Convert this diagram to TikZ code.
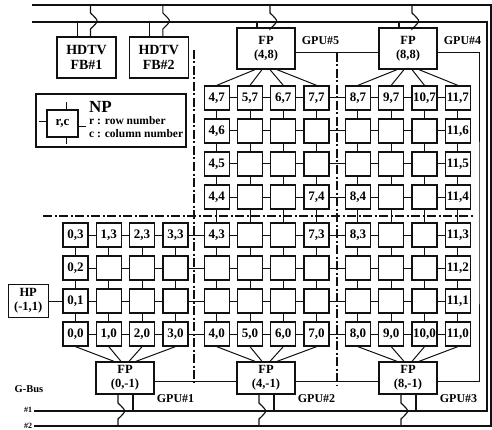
\documentclass[tikz,border=0pt]{standalone}
\usepackage{fontspec}
\setmainfont{Liberation Serif}
\usepackage{tikz}
\usetikzlibrary{positioning,calc}
\definecolor{ppink}{HTML}{111111}
\tikzset{
  ppnp/.style={draw=ppink, line width=1.3pt, fill=white, minimum width=25pt, minimum height=24pt,
    inner sep=0pt, font=\bfseries\fontsize{13}{13}\selectfont},
  ppfp/.style={draw=ppink, line width=1.3pt, fill=white, align=center, minimum width=58pt,
    inner sep=0pt, font=\bfseries\fontsize{12.5}{14}\selectfont},
  pphd/.style={ppfp, minimum width=59pt, minimum height=41pt, font=\bfseries\fontsize{14}{15}\selectfont},
  pplink/.style={draw=ppink, line width=1pt},
  pptap/.style={draw=ppink, line width=1.1pt},
  ppbus/.style={draw=ppink, line width=2.2pt},
  ppsplit/.style={draw=ppink, line width=1.6pt, dash pattern=on 9pt off 2.5pt on 2pt off 2.5pt},
  pplabel/.style={font=\bfseries\fontsize{12}{12}\selectfont, inner sep=0pt},
  ppsmall/.style={font=\bfseries\fontsize{8}{8}\selectfont, inner sep=0pt}
}
\newcommand{\npshown}[2]{%
  \pgfmathtruncatemacro\nplab{(#2==0)||(#2==7)||(#1==0)||(#1==11)||((#2==3)&&(#1<5))||((#2>3)&&(#1==4))||(((#2==3)||(#2==4))&&((#1==7)||(#1==8)))}%
  \ifnum\nplab=1 #1,#2\fi}
\begin{document}
\begin{tikzpicture}[x=1pt, y=1pt]
\path[use as bounding box, fill=white] (0,0) rectangle (492,429);
\coordinate (b2tl) at (32,424);
\coordinate (b2tr) at (491,424);
\coordinate (b2br) at (491,3);
\coordinate (b2bl) at (34,3);
\coordinate (b1tl) at (32,407);
\coordinate (b1tr) at (487,407);
\coordinate (b1br) at (487,18);
\coordinate (b1bl) at (34,18);
\draw[ppbus] (b2tl) -- (b2tr) -- (b2br) -- (b2bl);
\draw[ppbus] (b1tl) -- (b1tr) -- (b1br) -- (b1bl);
\draw[ppsplit] (43,213) -- (474,213);
\draw[ppsplit] (194,379) -- (194,46);
\draw[ppsplit] (337,376) -- (337,44);
\foreach \i in {0,...,11}
  \foreach \j in {0,...,3}
    \node[ppnp] (nc\i r\j) at ({75.5+33.3*\i+8*int(\i/4)},{95+33*\j}) {\npshown{\i}{\j}};
\foreach \i in {4,...,11}
  \foreach \j in {4,...,7}
    \node[ppnp] (nc\i r\j) at ({75.5+33.3*\i+8*int(\i/4)},{100+33*\j}) {\npshown{\i}{\j}};
\foreach \j in {0,...,3}
  \foreach \i [count=\k from 1] in {0,...,10}
    \draw[pplink] (nc\i r\j.east) -- (nc\k r\j.west);
\foreach \j in {4,...,7}
  \foreach \i [count=\k from 5] in {4,...,10}
    \draw[pplink] (nc\i r\j.east) -- (nc\k r\j.west);
\foreach \i in {0,...,3}
  \foreach \j [count=\k from 1] in {0,...,2}
    \draw[pplink] (nc\i r\j.north) -- (nc\i r\k.south);
\foreach \i in {4,...,11}
  \foreach \j [count=\k from 1] in {0,...,6}
    \draw[pplink] (nc\i r\j.north) -- (nc\i r\k.south);
\node[ppfp, minimum height=41pt] (fp48) at (266,380.5) {FP\\(4,8)};
\node[ppfp, minimum height=41pt] (fp88) at (408,380.5) {FP\\(8,8)};
\node[ppfp, minimum height=32pt] (fp0) at (125,51) {FP\\(0,-1)};
\node[ppfp, minimum height=32pt] (fp4) at (266,51) {FP\\(4,-1)};
\node[ppfp, minimum height=32pt] (fp8) at (408,51) {FP\\(8,-1)};
\node[pphd] (hd1) at (86.5,371.5) {HDTV\\FB\#1};
\node[pphd, right=12pt of hd1] (hd2) {HDTV\\FB\#2};
\node[ppfp, minimum width=40pt, minimum height=33pt, left=13.5pt of nc0r1] (hp) {HP\\(-1,1)};
\foreach \i/\dx in {0/-11,1/-4,2/4,3/11}
  \draw[pplink] (nc\i r0.south) -- ([xshift=\dx pt]fp0.north);
\foreach \i/\dx in {4/-11,5/-4,6/4,7/11}
  \draw[pplink] (nc\i r0.south) -- ([xshift=\dx pt]fp4.north);
\foreach \i/\dx in {8/-11,9/-4,10/4,11/11}
  \draw[pplink] (nc\i r0.south) -- ([xshift=\dx pt]fp8.north);
\foreach \i/\dx in {4/-11,5/-4,6/4,7/11}
  \draw[pplink] (nc\i r7.north) -- ([xshift=\dx pt]fp48.south);
\foreach \i/\dx in {8/-11,9/-4,10/4,11/11}
  \draw[pplink] (nc\i r7.north) -- ([xshift=\dx pt]fp88.south);
\draw[pplink] (hp.east) -- (nc0r1.west);
\coordinate (fploop) at (479,200);
\draw[pplink] ([yshift=-4.5pt]fp48.east) -- ([yshift=-4.5pt]fp88.west);
\draw[pplink] ([yshift=-4.5pt]fp88.east) -| (fploop) |- ([yshift=-3pt]fp8.east);
\draw[pplink] ([yshift=-3pt]fp0.east) -- ([yshift=-3pt]fp4.west);
\draw[pplink] ([yshift=-3pt]fp4.east) -- ([yshift=-3pt]fp8.west);
\coordinate (hoptop) at (0,400);
\coordinate (hopbot) at (0,26);
\foreach \dev in {hd1,hd2,fp48,fp88} {
  \draw[pptap] ([xshift=-9pt]\dev.north) coordinate (tp) -- (tp |- b1tl);
  \draw[pptap] ([xshift=4pt]\dev.north) coordinate (tp) -- (tp |- hoptop)
    to[out=45,in=-45,looseness=2] ++(0,16) -- (tp |- b2tl);
}
\foreach \dev in {fp0,fp4,fp8} {
  \draw[pptap] ([xshift=8pt]\dev.south) coordinate (tp) -- (tp |- b1bl);
  \draw[pptap] ([xshift=-7pt]\dev.south) coordinate (tp) -- (tp |- hopbot)
    to[out=-45,in=45,looseness=2] ++(0,-16) -- (tp |- b2bl);
}
\node[pplabel, anchor=west] (gpu5) at ([xshift=6pt,yshift=8pt]fp48.east) {GPU\#5};
\node[pplabel, anchor=west] (gpu4) at ([xshift=6pt,yshift=8pt]fp88.east) {GPU\#4};
\node[pplabel, anchor=west] (gpu1) at ([xshift=2pt,yshift=-4pt]fp0.south east) {GPU\#1};
\node[pplabel, anchor=west] (gpu2) at ([xshift=2pt,yshift=-4pt]fp4.south east) {GPU\#2};
\node[pplabel, anchor=west] (gpu3) at ([xshift=2pt,yshift=-4pt]fp8.south east) {GPU\#3};
\node[font=\bfseries\fontsize{10.5}{10.5}\selectfont, inner sep=0pt] (gbus) at (29,40) {G-Bus};
\node[ppsmall] (bus1lab) at (28,19) {\#1};
\node[ppsmall] (bus2lab) at (28,3) {\#2};
\node[draw=ppink, line width=1.3pt, minimum width=150pt, minimum height=53pt] (legend) at (111,308.5) {};
\node[ppnp, minimum width=31pt, minimum height=27pt] (legnp) at (62.5,305.5) {r,c};
\draw[pplink] ([xshift=4pt]legnp.north) -- ++(0,7);
\draw[pplink] ([xshift=4pt]legnp.south) -- ++(0,-6);
\draw[pplink] ([yshift=2pt]legnp.west) -- ++(-7,0);
\draw[pplink] ([yshift=-3pt]legnp.east) -- ++(7,0);
\node[font=\bfseries\fontsize{17}{17}\selectfont, inner sep=0pt, anchor=west] (legtitle) at (89,322) {NP};
\node[font=\bfseries\fontsize{11.5}{13}\selectfont, align=left, inner sep=0pt, anchor=north west] (legtext) at (89,313) {r : row number\\c : column number};
\end{tikzpicture}
\end{document}
